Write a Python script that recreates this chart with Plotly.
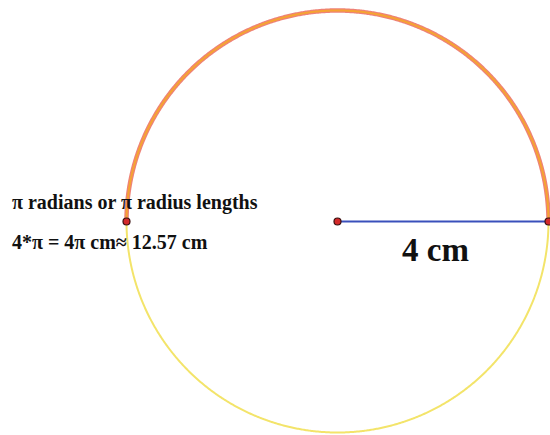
import numpy as np
import plotly.graph_objects as go

# dados do desenho
raio = 4  # cm
centro = (0, 0)
texto_linha1 = "π radians or π radius lengths"
texto_linha2 = "4*π = 4π cm≈ 12.57 cm"
texto_raio = "4 cm"

# arcos: metade de cima (laranja) e metade de baixo (amarela)
ang_cima = np.linspace(0, np.pi, 600)
ang_baixo = np.linspace(np.pi, 2 * np.pi, 600)

fig = go.Figure()

# metade de baixo - amarela
fig.add_trace(go.Scatter(
    x=centro[0] + raio * np.cos(ang_baixo),
    y=centro[1] + raio * np.sin(ang_baixo),
    mode='lines',
    line=dict(color='#f3e46a', width=2, simplify=False),
    hoverinfo='skip'
))

# metade de cima - borda avermelhada + laranja
fig.add_trace(go.Scatter(
    x=centro[0] + raio * np.cos(ang_cima),
    y=centro[1] + raio * np.sin(ang_cima),
    mode='lines',
    line=dict(color='#ee8277', width=4.5, simplify=False),
    hoverinfo='skip'
))
fig.add_trace(go.Scatter(
    x=centro[0] + raio * np.cos(ang_cima),
    y=centro[1] + raio * np.sin(ang_cima),
    mode='lines',
    line=dict(color='#f5a431', width=2, simplify=False),
    hoverinfo='skip'
))

# raio azul
fig.add_trace(go.Scatter(
    x=[centro[0], centro[0] + raio],
    y=[centro[1], centro[1]],
    mode='lines',
    line=dict(color='#3a50bb', width=1.8),
    hoverinfo='skip'
))

# pontos
fig.add_trace(go.Scatter(
    x=[centro[0], centro[0] + raio, centro[0] - raio],
    y=[centro[1], centro[1], centro[1]],
    mode='markers',
    marker=dict(size=7, color='#d42a2a', line=dict(color='#3a1010', width=1.2)),
    hoverinfo='skip'
))

escala = 52.75  # px por cm
fonte = "Liberation Serif, Times New Roman, serif"

fig.add_annotation(x=-6.208, y=0.351, text="<b>" + texto_linha1 + "</b>",
                   showarrow=False, xanchor='left', yanchor='middle',
                   font=dict(family=fonte, size=20, color='#111111'))
fig.add_annotation(x=-6.208, y=-0.389, text="<b>" + texto_linha2 + "</b>",
                   showarrow=False, xanchor='left', yanchor='middle',
                   font=dict(family=fonte, size=20, color='#111111'))
fig.add_annotation(x=1.867, y=-0.54, text="<b>" + texto_raio + "</b>",
                   showarrow=False, xanchor='center', yanchor='middle',
                   font=dict(family=fonte, size=33, color='#111111'))

fig.update_layout(
    width=550, height=435,
    margin=dict(l=0, r=0, t=0, b=0),
    plot_bgcolor='white', paper_bgcolor='white',
    showlegend=False,
    xaxis=dict(range=[-337.5 / escala, 212.5 / escala], visible=False),
    yaxis=dict(range=[-213.5 / escala, 221.5 / escala], visible=False),
)

fig.write_html("out.html", config={'displayModeBar': False},
               post_script="document.body.style.margin='0';")
